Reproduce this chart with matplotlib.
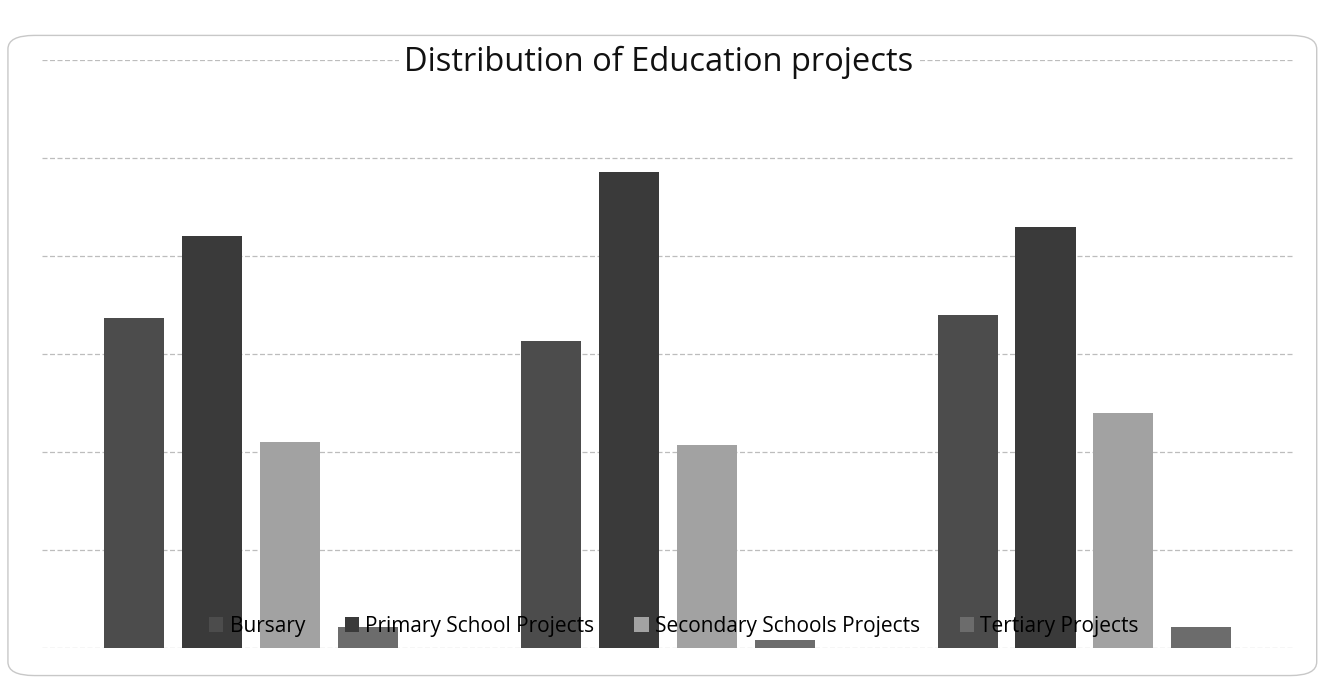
import numpy as np
import matplotlib.pyplot as plt
from matplotlib.patches import FancyBboxPatch

# data (grid step = 1)
groups = ['Group 1', 'Group 2', 'Group 3']
series = ['Bursary', 'Primary School Projects', 'Secondary Schools Projects', 'Tertiary Projects']
bursary = [3.37, 3.13, 3.40]
primary = [4.20, 4.86, 4.30]
secondary = [2.10, 2.07, 2.40]
tertiary = [0.22, 0.08, 0.22]

values = [bursary, primary, secondary, tertiary]
colors = ['#4c4c4c', '#3a3a3a', '#a2a2a2', '#6c6c6c']

plt.rcParams['font.family'] = ['Open Sans', 'DejaVu Sans']

fig = plt.figure(figsize=(13.22, 6.81), dpi=100)
ax = fig.add_axes([0.032, 0.048, 0.946, 0.864])

x = np.arange(len(groups))
step = 0.187
width = 0.144
for i, (name, vals, col) in enumerate(zip(series, values, colors)):
    ax.bar(x + (i - 1.5) * step, vals, width, color=col, label=name, zorder=3)

ax.set_xlim(-0.5, 2.5)
ax.set_ylim(0, 6)
ax.set_yticks(range(0, 7))
ax.grid(axis='y', color='#bdbdbd', linestyle=(0, (4, 2)), linewidth=0.9, zorder=0)
ax.set_axisbelow(True)
ax.tick_params(left=False, bottom=False, labelleft=False, labelbottom=False)
for s in ax.spines.values():
    s.set_visible(False)

# legend overlaps the bottom of the bars, as in the original
leg = ax.legend(loc='lower center', bbox_to_anchor=(0.505, -0.012), ncol=4, frameon=False,
                fontsize=15, handlelength=0.7, handleheight=0.7, handletextpad=0.3,
                columnspacing=1.9)
leg.set_zorder(5)

fig.text(0.4985, 0.909, 'Distribution of Education projects', ha='center', va='center',
         fontsize=23.5, color='#111111',
         bbox=dict(facecolor='white', edgecolor='none', pad=4), zorder=10)

# rounded outer chart border
border = FancyBboxPatch((0.006, 0.008), 0.99, 0.94, boxstyle='round,pad=0,rounding_size=0.02',
                        transform=fig.transFigure, facecolor='none', edgecolor='#c8c8c8',
                        linewidth=1.0)
fig.patches.append(border)

fig.savefig('out.png', dpi=100)
